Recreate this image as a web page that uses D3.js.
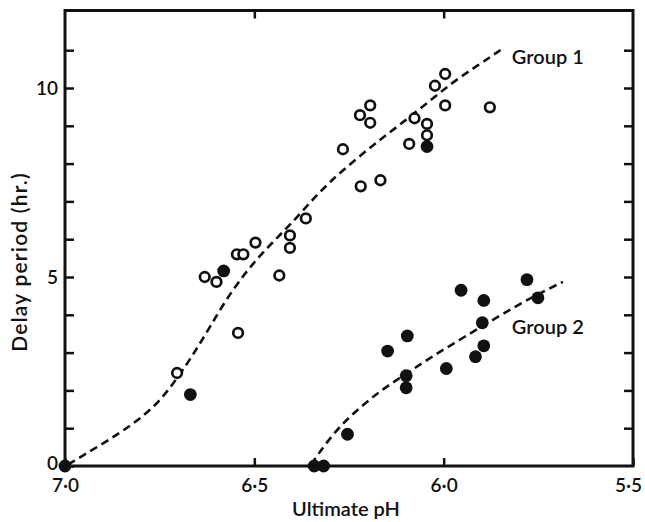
<!DOCTYPE html>
<html>
<head>
<meta charset="utf-8">
<script src="https://cdn.jsdelivr.net/npm/d3@7"></script>
<style>
  body { margin: 0; background: #fff; }
  text { font-family: Lato, "Open Sans", sans-serif; fill: #111; }
</style>
</head>
<body>
<div id="chart"></div>
<script>
// open circles: [ultimate pH, delay (hr.)]
let openPoints = [
    [6.704, 2.46], [6.631, 5.00], [6.600, 4.87], [6.546, 5.60], [6.529, 5.60],
    [6.543, 3.52], [6.497, 5.91], [6.434, 5.04], [6.406, 6.10], [6.406, 5.77],
    [6.364, 6.55], [6.266, 8.38], [6.219, 7.40], [6.221, 9.28], [6.194, 9.54],
    [6.194, 9.08], [6.167, 7.56], [6.091, 8.52], [6.077, 9.20], [6.044, 9.05],
    [6.044, 8.75], [6.023, 10.06], [5.996, 10.37], [5.996, 9.54], [5.878, 9.49]
];

// filled circles
let filledPoints = [
    [7.000, 0.00], [6.669, 1.89], [6.581, 5.16], [6.044, 8.45],
    [6.342, 0.00], [6.317, 0.00], [6.254, 0.84], [6.148, 3.04], [6.096, 3.44],
    [6.099, 2.39], [6.099, 2.07], [5.993, 2.58], [5.954, 4.65], [5.916, 2.89],
    [5.894, 3.18], [5.898, 3.79], [5.894, 4.38], [5.780, 4.93], [5.751, 4.45]
];

// dashed fitted curves
let curveGroup1 = [
    [6.992, 0.04], [6.900, 0.59], [6.824, 1.08], [6.758, 1.61], [6.704, 2.31],
    [6.660, 2.97], [6.617, 3.68], [6.573, 4.43], [6.519, 5.18], [6.464, 5.80],
    [6.410, 6.33], [6.355, 6.95], [6.301, 7.52], [6.235, 8.09], [6.170, 8.62],
    [6.105, 9.11], [6.039, 9.64], [5.974, 10.17], [5.908, 10.61], [5.849, 11.01]
];
let curveGroup2 = [
    [6.350, 0.04], [6.312, 0.59], [6.268, 1.12], [6.214, 1.61], [6.159, 2.05],
    [6.099, 2.44], [6.039, 2.84], [5.974, 3.24], [5.908, 3.64], [5.843, 4.03],
    [5.767, 4.47], [5.685, 4.87]
];

let xTicks = [7.0, 6.5, 6.0, 5.5];
let yTicks = [0, 1, 2, 3, 4, 5, 6, 7, 8, 9, 10, 11];
let yLabels = [0, 5, 10];
let groupLabels = [
    {text: "Group 1", ph: 5.82, delay: 10.82},
    {text: "Group 2", ph: 5.82, delay: 3.68}
];

let width = 645, height = 522;
let plot = {left: 65, right: 633, top: 10.5, bottom: 466};

let svg = d3.select("#chart").append("svg")
    .attr("width", width)
    .attr("height", height);

let x = d3.scaleLinear().domain([7.0, 5.5]).range([plot.left, plot.right]);
let y = d3.scaleLinear().domain([0, 10]).range([plot.bottom, 88]);

let fmt = d => d.toFixed(1).replace(".", "\u00b7");

// axes with inward ticks
let gLeft = svg.append("g").attr("transform", "translate(" + plot.left + ",0)")
    .call(d3.axisLeft(y).tickValues(yTicks).tickSize(-9).tickPadding(7)
        .tickFormat(d => yLabels.includes(d) ? d : ""));
let gRight = svg.append("g").attr("transform", "translate(" + plot.right + ",0)")
    .call(d3.axisRight(y).tickValues(yTicks.slice(1)).tickSize(-9).tickFormat(""));
let gBottom = svg.append("g").attr("transform", "translate(0," + plot.bottom + ")")
    .call(d3.axisBottom(x).tickValues(xTicks).tickSize(-8).tickPadding(16).tickFormat(fmt));
let gTop = svg.append("g").attr("transform", "translate(0," + plot.top + ")")
    .call(d3.axisTop(x).tickValues([6.5, 6.0]).tickSize(-8).tickFormat(""));

[gLeft, gRight, gBottom, gTop].forEach(function(g) {
    g.select(".domain").remove();
    g.selectAll(".tick line").attr("stroke", "#111").attr("stroke-width", 2.5);
    g.selectAll(".tick text").attr("font-size", 19).attr("fill", "#111")
        .attr("font-weight", 600)
        .style("font-family", "Lato, 'Open Sans', sans-serif");
});
gLeft.selectAll(".tick text").attr("dy", d => d === 0 ? "0.2em" : "0.35em");
gBottom.selectAll(".tick text").attr("dy", "0.5em")
    .attr("dx", d => d === 5.5 ? -5 : 0);

// frame
svg.append("rect")
    .attr("x", plot.left).attr("y", plot.top)
    .attr("width", plot.right - plot.left)
    .attr("height", plot.bottom - plot.top)
    .attr("fill", "none").attr("stroke", "#111").attr("stroke-width", 3);

// dashed curves
let line = d3.line()
    .x(d => x(d[0])).y(d => y(d[1]))
    .curve(d3.curveBasis);

[curveGroup1, curveGroup2].forEach(function(c) {
    svg.append("path").datum(c)
        .attr("d", line)
        .attr("fill", "none").attr("stroke", "#111")
        .attr("stroke-width", 2.6)
        .attr("stroke-dasharray", "8,5");
});

// points
svg.append("g").selectAll("circle").data(openPoints).join("circle")
    .attr("cx", d => x(d[0])).attr("cy", d => y(d[1]))
    .attr("r", 4.8)
    .attr("fill", "#fff").attr("stroke", "#111").attr("stroke-width", 2.7);

svg.append("g").selectAll("circle").data(filledPoints).join("circle")
    .attr("cx", d => x(d[0])).attr("cy", d => y(d[1]))
    .attr("r", 6.4)
    .attr("fill", "#111");

// group labels
svg.selectAll(".glabel").data(groupLabels).join("text")
    .attr("class", "glabel")
    .attr("x", d => x(d.ph)).attr("y", d => y(d.delay))
    .attr("dy", "0.35em")
    .attr("font-size", 20)
    .attr("font-weight", 600)
    .text(d => d.text);

// axis titles
svg.append("text")
    .attr("x", 346).attr("y", 516)
    .attr("text-anchor", "middle")
    .attr("font-size", 20)
    .attr("font-weight", 600)
    .text("Ultimate pH");

svg.append("text")
    .attr("transform", "translate(27,262) rotate(-90)")
    .attr("text-anchor", "middle")
    .attr("font-size", 21)
    .attr("font-weight", 600)
    .attr("letter-spacing", 1.2)
    .text("Delay period (hr.)");
</script>
</body>
</html>
